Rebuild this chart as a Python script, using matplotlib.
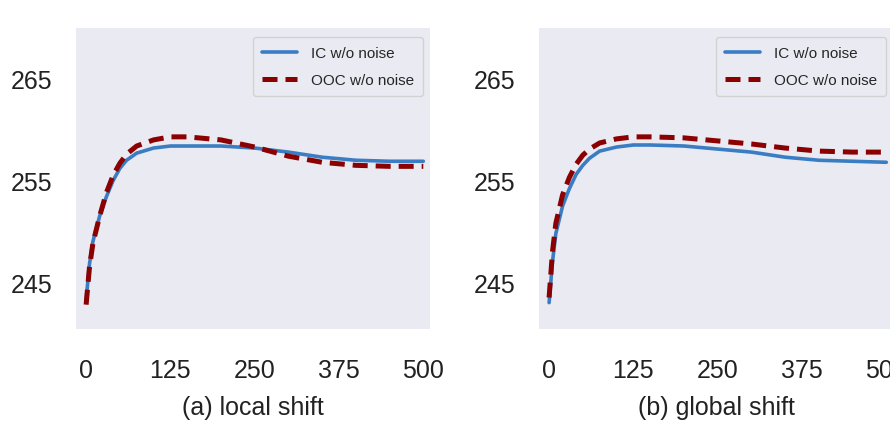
import matplotlib
matplotlib.use("Agg")
import matplotlib.pyplot as plt
import seaborn as sns

# x positions (steps)
steps = [0, 5, 10, 20, 30, 40, 50, 60, 75, 100, 125, 150, 200, 250, 300, 350, 400, 450, 500]

# (a) local shift
ic_local = [243.3, 246.8, 249.0, 251.5, 253.4, 255.0, 256.2, 257.0, 257.7, 258.2, 258.4, 258.4,
            258.4, 258.2, 257.8, 257.3, 257.0, 256.9, 256.9]
ooc_local = [242.8, 246.5, 248.8, 251.5, 253.8, 255.5, 256.7, 257.6, 258.4, 259.0, 259.3, 259.3,
             259.0, 258.3, 257.4, 256.8, 256.5, 256.4, 256.4]

# (b) global shift
ic_global = [243.0, 247.0, 249.8, 252.5, 254.2, 255.6, 256.5, 257.2, 257.9, 258.3, 258.5, 258.5,
             258.4, 258.1, 257.8, 257.3, 257.0, 256.9, 256.8]
ooc_global = [243.5, 248.0, 250.8, 253.6, 255.3, 256.6, 257.5, 258.1, 258.7, 259.1, 259.3, 259.3,
              259.2, 258.9, 258.6, 258.2, 257.9, 257.8, 257.8]

panels = [
    (ic_local, ooc_local, "(a) local shift"),
    (ic_global, ooc_global, "(b) global shift"),
]

xticks = [0, 125, 250, 375, 500]
yticks = [245, 255, 265]

sns.set_style("dark")
plt.rcParams['font.family'] = ['Liberation Sans', 'DejaVu Sans']

fig = plt.figure(figsize=(8.9, 4.27), dpi=100)
lefts = [0.0854, 0.6056]

for left, (ic, ooc, title) in zip(lefts, panels):
    ax = fig.add_axes([left, 0.227, 0.3978, 0.705])
    ax.plot(steps, ic, '-', color='#3a7dc2', lw=2.6, label='IC w/o noise')
    ax.plot(steps, ooc, '--', color='#8b0000', lw=3.6, dashes=(3, 1.6), label='OOC w/o noise')
    ax.set_xlim(-15, 510)
    ax.set_ylim(240.4, 270)
    ax.set_xticks(xticks)
    ax.set_yticks(yticks)
    ax.tick_params(axis='x', labelsize=18, pad=21, length=0, colors='#222222')
    ax.tick_params(axis='y', labelsize=18, pad=17, length=0, colors='#222222')
    ax.set_xlabel(title, fontsize=18, color='#222222', labelpad=9)
    ax.legend(loc='upper right', fontsize=11, handlelength=2.3, handletextpad=0.9,
              borderpad=0.6, labelspacing=0.85, framealpha=0.8, borderaxespad=0,
              bbox_to_anchor=(0.98, 0.97))
    for s in ax.spines.values():
        s.set_visible(False)

fig.savefig("out.png", dpi=100)
